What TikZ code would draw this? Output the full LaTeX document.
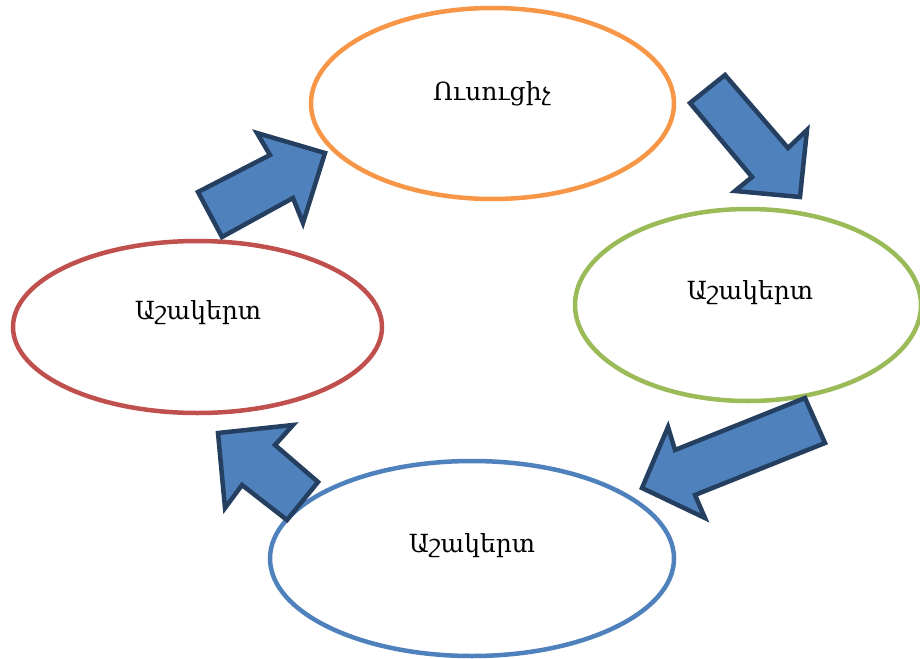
\documentclass[tikz,border=0pt]{standalone}
\usepackage{fontspec}
\setmainfont{DejaVu Serif}
\usetikzlibrary{shapes.geometric}
\definecolor{orng}{HTML}{F79646}
\definecolor{grn}{HTML}{9BBB59}
\definecolor{rd}{HTML}{C0504D}
\definecolor{bl}{HTML}{4F81BD}
\definecolor{arrowedge}{HTML}{243F60}
\tikzset{
  oval/.style={ellipse, draw, line width=4.5pt, fill=white, inner sep=0pt},
  lbl/.style={font=\fontsize{25}{30}\selectfont},
  blockarrow/.style={fill=bl, draw=arrowedge, line width=4.5pt, line join=miter}
}
\begin{document}
\begin{tikzpicture}[x=1pt,y=-1pt]
\useasboundingbox (0,0) rectangle (920,658);
\node[oval, draw=orng, minimum width=363pt, minimum height=191pt] (teacher) at (492.5,103.5) {};
\node[oval, draw=grn, minimum width=346pt, minimum height=192pt] (s1) at (748,305) {};
\node[oval, draw=rd, minimum width=369pt, minimum height=172pt] (s3) at (197.5,327) {};
\node[oval, draw=bl, minimum width=404pt, minimum height=195pt] (s2) at (472,558.5) {};
\node[lbl] (tt) at (492,94) {Ուսուցիչ};
\node[lbl] (t1) at (750,293) {Աշակերտ};
\node[lbl] (t3) at (198,313) {Աշակերտ};
\node[lbl] (t2) at (472,546) {Աշակերտ};
% arrow: left ellipse -> teacher
\draw[blockarrow] (222,237) -- (198,192) -- (270,155) -- (257,133) -- (325,153) -- (303,223) -- (293,198) -- cycle;
% arrow: teacher -> right ellipse
\draw[blockarrow] (690,103) -- (725,75) -- (788,148) -- (807,130) -- (800,197) -- (735,191) -- (752,177) -- cycle;
% arrow: right ellipse -> bottom ellipse
\draw[blockarrow] (805,398) -- (825,443) -- (695,495) -- (705,518) -- (642,488) -- (668,427) -- (675,450) -- cycle;
% arrow: bottom ellipse -> left ellipse
\draw[blockarrow] (318,482) -- (287,520) -- (242,485) -- (225,508) -- (218,433) -- (293,425) -- (275,445) -- cycle;
\end{tikzpicture}
\end{document}
